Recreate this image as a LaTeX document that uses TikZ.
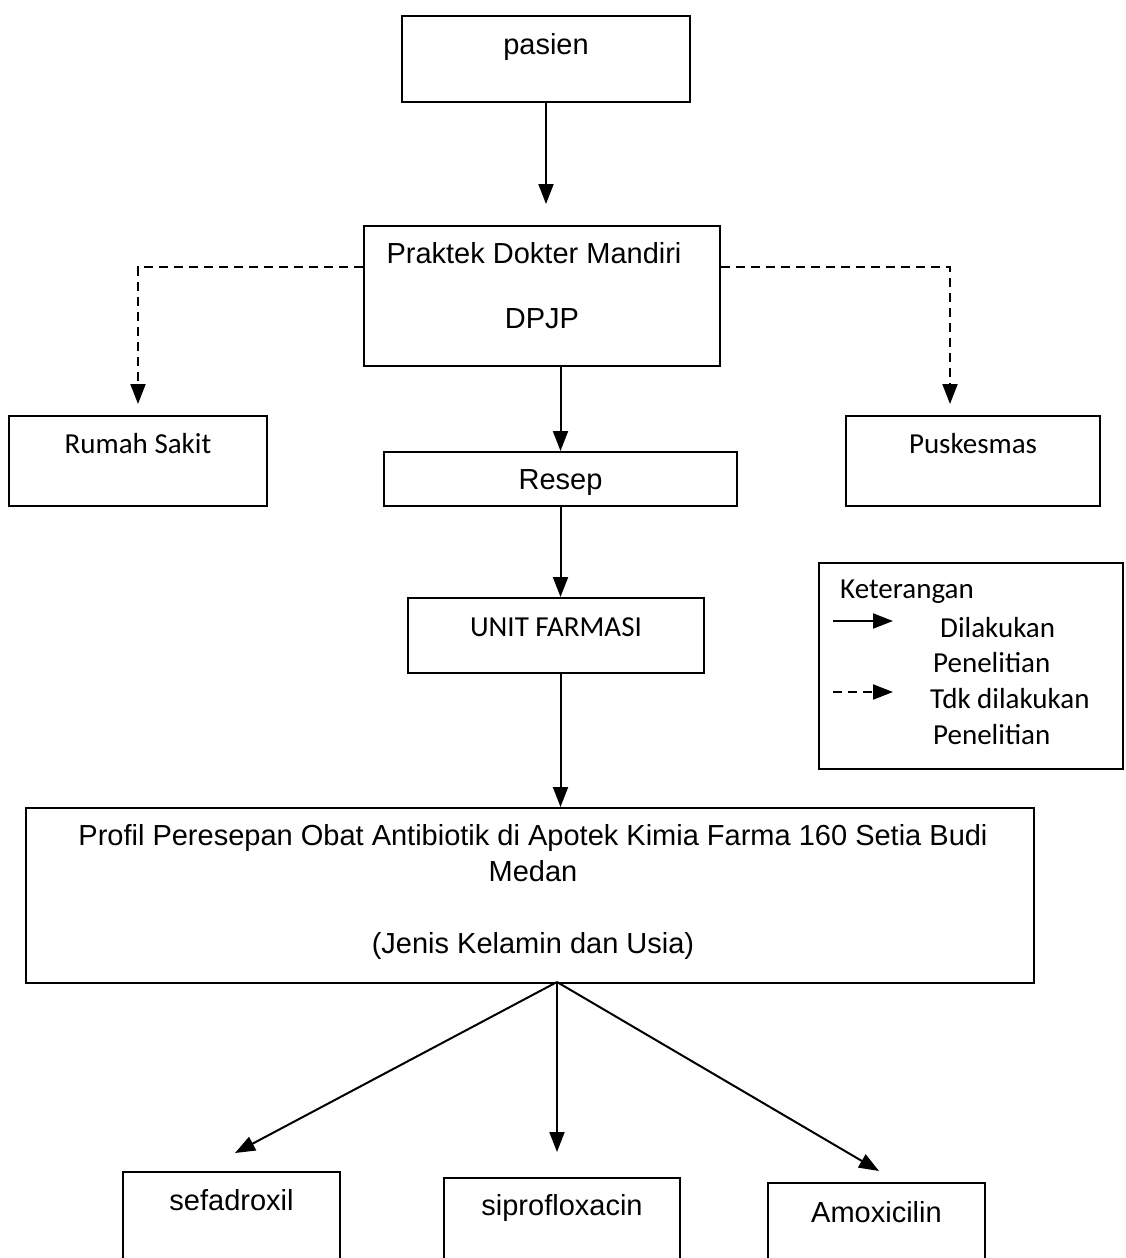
\documentclass[tikz,border=0pt]{standalone}
\usepackage{fontspec}
\setmainfont{Liberation Sans}
\newfontfamily\calibri{Carlito}
\usetikzlibrary{arrows.meta,positioning}

\begin{document}
\begin{tikzpicture}[x=1pt,y=-1pt,
  every node/.style={font=\fontsize{29}{33}\selectfont},
  box/.style={draw,line width=1.8pt,anchor=north,inner sep=0pt,align=flush center},
  cal/.style={font=\fontsize{29}{35.4}\selectfont\calibri},
  arr/.style={line width=2pt,-{Triangle[length=20pt,width=15pt]}},
  dasharr/.style={arr,dash pattern=on 9pt off 6pt}]
  \useasboundingbox (0,0) rectangle (1126,1258);
  \clip (0,0) rectangle (1126,1258);

  % main column
  \node[box,minimum width=288pt,text height=39pt,text depth=47pt] (pasien) at (546,15) {pasien};
  \node[box,text width=356pt,text height=38pt,text depth=102pt] (praktek) at (542,225)
    {\hspace*{-16pt}Praktek Dokter Mandiri\\[32pt]DPJP};
  \node[box,cal,minimum width=258pt,text height=38pt,text depth=52pt] (rumah) at (138,415) {Rumah Sakit};
  \node[box,cal,minimum width=254pt,text height=38pt,text depth=52pt] (puskesmas) at (973,415) {Puskesmas};
  \node[box,minimum width=353pt,text height=38pt,text depth=16pt] (resep) at (560.5,451) {Resep};
  \node[box,cal,minimum width=296pt,text height=39pt,text depth=36pt] (unit) at (556,597) {UNIT FARMASI};
  \node[box,font=\fontsize{29}{36}\selectfont,text width=1008pt,text height=38pt,text depth=137pt] (profil) at (530,807)
    {\hspace*{6pt}Profil Peresepan Obat Antibiotik di Apotek Kimia Farma 160 Setia Budi\\
     \hspace*{6pt}Medan\\[36pt]\hspace*{6pt}(Jenis Kelamin dan Usia)};

  % obat
  \node[box,minimum width=217pt,text height=39pt,text depth=120pt] (sefa) at (231.5,1171) {sefadroxil};
  \node[box,minimum width=236pt,text height=38pt,text depth=120pt] (sipro) at (562,1177) {siprofloxacin};
  \node[box,minimum width=217pt,text height=40pt,text depth=120pt] (amox) at (876.5,1182) {Amoxicilin};

  \draw[arr,shorten >=21pt] (pasien.south) -- (pasien.south |- praktek.north);
  \draw[dasharr,shorten >=11pt] ([yshift=-42pt]praktek.north west) -| (rumah.north);
  \draw[dasharr,shorten >=11pt] ([yshift=-42pt]praktek.north east) -| ([xshift=-23pt]puskesmas.north);
  \draw[arr] (praktek.south -| resep) -- (resep);
  \draw[arr] (resep.south) -- (resep |- unit.north);
  \draw[arr] (resep |- unit.south) -- (resep |- profil.north);

  \coordinate (fan) at (557,982);
  \coordinate (tipsefa) at (235,1153);
  \coordinate (tipsipro) at (557,1152);
  \coordinate (tipamox) at (879,1171);
  \draw[arr] (fan) -- (tipsefa);
  \draw[arr] (fan) -- (tipsipro);
  \draw[arr] (fan) -- (tipamox);

  % keterangan
  \node[draw,line width=1.8pt,anchor=north west,inner sep=0pt,minimum width=304pt,minimum height=206pt] (legend) at (818,562) {};
  \node[cal,anchor=base west,inner sep=0pt] (ket) at (840,598) {Keterangan};
  \node[cal,anchor=base west,inner sep=0pt] (dil) at (940,637) {Dilakukan};
  \node[cal,anchor=base west,inner sep=0pt] (pen1) at (933,672) {Penelitian};
  \node[cal,anchor=base west,inner sep=0pt] (tdk) at (930,708) {Tdk dilakukan};
  \node[cal,anchor=base west,inner sep=0pt] (pen2) at (933,744) {Penelitian};
  \coordinate (solidA) at (833,621);
  \coordinate (solidB) at (893,621);
  \coordinate (dashA) at (833,692);
  \coordinate (dashB) at (893,692);
  \draw[arr] (solidA) -- (solidB);
  \draw[dasharr] (dashA) -- (dashB);
\end{tikzpicture}
\end{document}
